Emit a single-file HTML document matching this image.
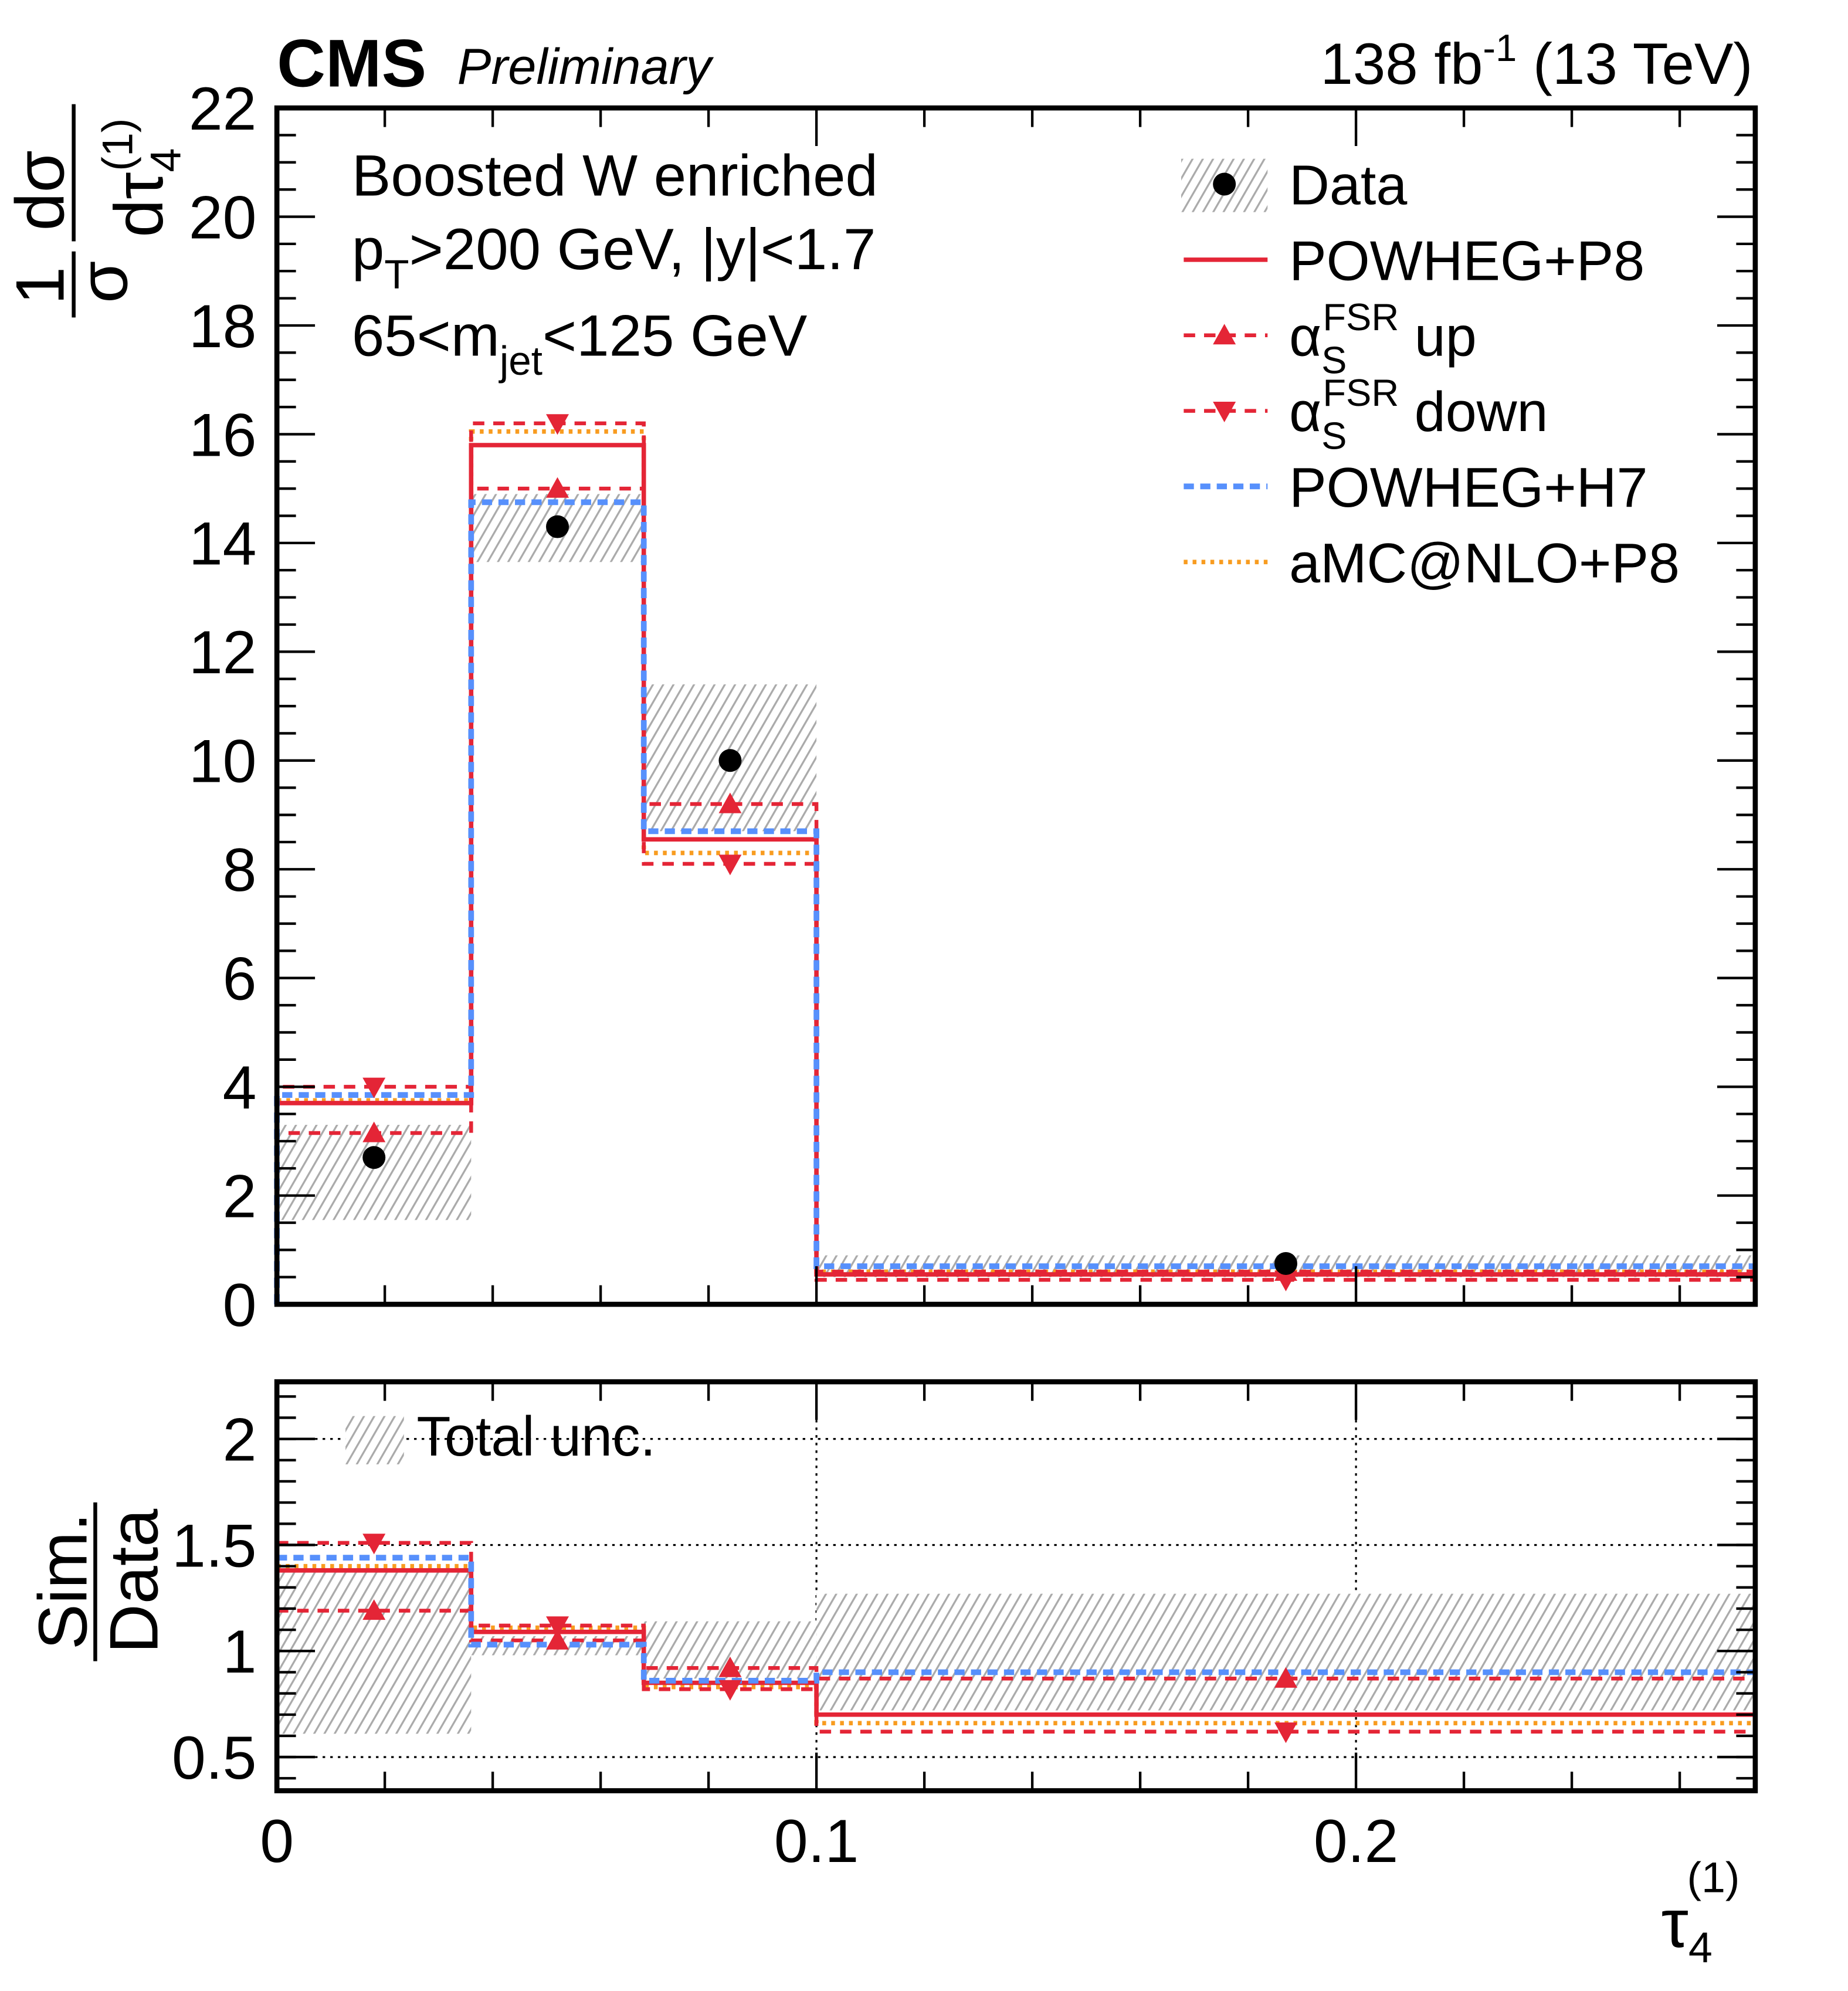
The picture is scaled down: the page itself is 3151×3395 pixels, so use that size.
<!DOCTYPE html>
<html><head><meta charset="utf-8"><style>html,body{margin:0;padding:0;background:#fff}svg{display:block}text{font-family:"Liberation Sans",sans-serif}</style></head>
<body>
<svg id="c" width="3151" height="3395" viewBox="0 0 1455 1567.7" xmlns="http://www.w3.org/2000/svg">
<defs>
<pattern id="hatch" patternUnits="userSpaceOnUse" width="7" height="7" patternTransform="rotate(30)">
<rect width="7" height="7" fill="#fff"/><line x1="0" y1="0" x2="0" y2="7" stroke="#aaa" stroke-width="3"/></pattern>
</defs>
<g id="gtop"></g><g id="gbot"></g>
<text x="218" y="68" font-size="53" font-weight="bold">CMS</text>
<text x="360" y="66" font-size="40" font-style="italic">Preliminary</text>
<text x="1380" y="66" font-size="46" text-anchor="end">138 fb<tspan font-size="30" dy="-18">-1</tspan><tspan dy="18"> (13 TeV)</tspan></text>
<text x="277" y="154" font-size="46">Boosted W enriched</text>
<text x="277" y="212" font-size="46">p<tspan font-size="32" dy="15">T</tspan><tspan dy="-15">&gt;200 GeV, |y|&lt;1.7</tspan></text>
<text x="277" y="280" font-size="46">65&lt;m<tspan font-size="32" dy="15">jet</tspan><tspan dy="-15">&lt;125 GeV</tspan></text>
<g id="ytitle"></g>
<g font-size="54">
<text transform="translate(68,1245) rotate(-90)" text-anchor="middle">Sim.</text>
<line x1="75" y1="1183" x2="75" y2="1308" stroke="#000" stroke-width="3"/>
<text transform="translate(124,1245) rotate(-90)" text-anchor="middle">Data</text>
</g>
<text x="1308" y="1533" font-size="54">τ<tspan font-size="34" dy="12">4</tspan><tspan font-size="34" dx="-20" dy="-55">(1)</tspan></text>
<g id="legend"></g>
</svg>
<script>
const binEdges=[0,0.036,0.068,0.1,0.274];
const binCenters=[0.018,0.052,0.084,0.187];
const dataVals=[2.7,14.3,10.0,0.75];
const dataLo=[1.55,13.65,8.7,0.5];
const dataHi=[3.3,14.9,11.4,0.9];
const p8Vals=[3.7,15.8,8.55,0.55];
const fsrUpVals=[3.15,15.0,9.2,0.6];
const fsrDownVals=[4.0,16.2,8.1,0.45];
const h7Vals=[3.85,14.75,8.7,0.7];
const amcVals=[3.75,16.05,8.3,0.6];
const ratioUncLo=[0.61,0.98,0.87,0.72];
const ratioUncHi=[1.38,1.07,1.14,1.27];
const p8Ratio=[1.38,1.09,0.85,0.70];
const fsrUpRatio=[1.19,1.05,0.92,0.87];
const fsrDownRatio=[1.51,1.12,0.82,0.62];
const h7Ratio=[1.44,1.03,0.86,0.90];
const amcRatio=[1.40,1.11,0.83,0.66];
const yTicks=[0,2,4,6,8,10,12,14,16,18,20,22];
const rTicks=[0.5,1,1.5,2];
const xTicks=[0,0.1,0.2];
const xTickLabels=["0","0.1","0.2"];

const NS="http://www.w3.org/2000/svg";
const L=218,R=1382,T1=85,B1=1027,T2=1088,B2=1410;
const X=v=>L+(v-0)/0.274*(R-L);
const Y=v=>B1-v/22*(B1-T1);
const YR=v=>1300-(v-1)*167;
function mk(p,tag,a){const e=document.createElementNS(NS,tag);for(const k in a)e.setAttribute(k,a[k]);p.appendChild(e);return e;}
const gTop=document.getElementById('gtop'),gBot=document.getElementById('gbot');

function bands(g,lo,hi,yf,name){lo.forEach((v,i)=>{const r=mk(g,'rect',{x:X(binEdges[i]),y:yf(hi[i]),width:X(binEdges[i+1])-X(binEdges[i]),height:yf(v)-yf(hi[i]),fill:'url(#hatch)'});

});}
function hist(g,vals,yf,col,dash,name,w,closed){let d='M'+X(binEdges[0])+','+(closed?yf(0):yf(vals[0]));
vals.forEach((v,i)=>{d+=' L'+X(binEdges[i])+','+yf(v)+' L'+X(binEdges[i+1])+','+yf(v);});
const p=mk(g,'path',{d:d,fill:'none',stroke:col,'stroke-width':w||3.5,'stroke-dasharray':dash||'none'});

}
function tri(g,x,y,up,name){const s=9;const pts=up?`${x},${y-s} ${x-s},${y+s*0.8} ${x+s},${y+s*0.8}`:`${x},${y+s} ${x-s},${y-s*0.8} ${x+s},${y-s*0.8}`;
const p=mk(g,'polygon',{points:pts,fill:'#e42536'});

}

// top panel
bands(gTop,dataLo,dataHi,Y,'data-unc-band');
hist(gTop,amcVals,Y,'#f89c20','3 4','amc-nlo-p8-hist',3.5,true);
hist(gTop,fsrUpVals,Y,'#e42536','9 7','fsr-up-hist',3,true);
hist(gTop,fsrDownVals,Y,'#e42536','9 7','fsr-down-hist',3,true);
hist(gTop,p8Vals,Y,'#e42536','none','powheg-p8-hist',3.5,true);
hist(gTop,h7Vals,Y,'#5790fc','8 5','powheg-h7-hist',4.5,true);
binCenters.forEach((c,i)=>{tri(gTop,X(c),Y(fsrUpVals[i]),true,'fsr-up-marker-'+i);tri(gTop,X(c),Y(fsrDownVals[i]),false,'fsr-down-marker-'+i);
const e=mk(gTop,'circle',{cx:X(c),cy:Y(dataVals[i]),r:9,fill:'#000'});

});
mk(gTop,'rect',{x:L,y:T1,width:R-L,height:B1-T1,fill:'none',stroke:'#000','stroke-width':4});
yTicks.forEach(v=>{const y=Y(v);mk(gTop,'line',{x1:L,x2:L+30,y1:y,y2:y,stroke:'#000','stroke-width':2});mk(gTop,'line',{x1:R,x2:R-30,y1:y,y2:y,stroke:'#000','stroke-width':2});
const t=mk(gTop,'text',{x:L-16,y:y+17,'font-size':48,'text-anchor':'end'});t.textContent=v;

});
for(let v=0;v<=22;v+=0.5){if(v%2===0)continue;const y=Y(v);mk(gTop,'line',{x1:L,x2:L+15,y1:y,y2:y,stroke:'#000','stroke-width':2});mk(gTop,'line',{x1:R,x2:R-15,y1:y,y2:y,stroke:'#000','stroke-width':2});}
for(let k=1;k<14;k++){const v=k*0.02,x=X(v),big=(k%5===0);
[[B1,B1-(big?30:15)],[T1,T1+(big?30:15)],[B2,B2-(big?30:15)],[T2,T2+(big?30:15)]].forEach(a=>mk(gTop,'line',{x1:x,x2:x,y1:a[0],y2:a[1],stroke:'#000','stroke-width':2}));}

// ratio panel
rTicks.forEach(v=>mk(gBot,'line',{x1:L,x2:R,y1:YR(v),y2:YR(v),stroke:'#000','stroke-width':1.5,'stroke-dasharray':'2 4'}));
[0.1,0.2].forEach(v=>mk(gBot,'line',{x1:X(v),x2:X(v),y1:T2,y2:B2,stroke:'#000','stroke-width':1.5,'stroke-dasharray':'2 4'}));
bands(gBot,ratioUncLo,ratioUncHi,YR,'ratio-unc-band');
hist(gBot,amcRatio,YR,'#f89c20','3 4','ratio-amc-hist',3.5);
hist(gBot,fsrUpRatio,YR,'#e42536','9 7','ratio-fsr-up-hist',3);
hist(gBot,fsrDownRatio,YR,'#e42536','9 7','ratio-fsr-down-hist',3);
hist(gBot,p8Ratio,YR,'#e42536','none','ratio-p8-hist',3.5);
hist(gBot,h7Ratio,YR,'#5790fc','8 5','ratio-h7-hist',4.5);
binCenters.forEach((c,i)=>{tri(gBot,X(c),YR(fsrUpRatio[i]),true,'ratio-fsr-up-marker-'+i);tri(gBot,X(c),YR(fsrDownRatio[i]),false,'ratio-fsr-down-marker-'+i);});
mk(gBot,'rect',{x:L,y:T2,width:R-L,height:B2-T2,fill:'none',stroke:'#000','stroke-width':4});
rTicks.forEach(v=>{const y=YR(v);mk(gBot,'line',{x1:L,x2:L+30,y1:y,y2:y,stroke:'#000','stroke-width':2});mk(gBot,'line',{x1:R,x2:R-30,y1:y,y2:y,stroke:'#000','stroke-width':2});
const t=mk(gBot,'text',{x:L-16,y:y+17,'font-size':48,'text-anchor':'end'});t.textContent=v;

});
for(let v=0.4;v<2.3;v+=0.1){const y=YR(v);mk(gBot,'line',{x1:L,x2:L+15,y1:y,y2:y,stroke:'#000','stroke-width':2});mk(gBot,'line',{x1:R,x2:R-15,y1:y,y2:y,stroke:'#000','stroke-width':2});}
xTicks.forEach((v,i)=>{const t=mk(gBot,'text',{x:X(v),y:1466,'font-size':48,'text-anchor':'middle'});t.textContent=xTickLabels[i];

});
const ub=mk(gBot,'rect',{x:272,y:1115,width:46,height:38,fill:'url(#hatch)'});


const ut=mk(gBot,'text',{x:328,y:1146,'font-size':44});ut.textContent='Total unc.';



// y title
const yt=document.getElementById('ytitle');
const t1=mk(yt,'text',{transform:'translate(50,225) rotate(-90)','font-size':54,'text-anchor':'middle'});t1.textContent='1';
const t2=mk(yt,'text',{transform:'translate(100,222) rotate(-90)','font-size':54,'text-anchor':'middle'});t2.textContent='σ';
mk(yt,'line',{x1:58,x2:58,y1:198,y2:250,stroke:'#000','stroke-width':3});
const t3=mk(yt,'text',{transform:'translate(50,150) rotate(-90)','font-size':54,'text-anchor':'middle'});t3.textContent='dσ';
mk(yt,'line',{x1:58,x2:58,y1:82,y2:190,stroke:'#000','stroke-width':3});
const t4=mk(yt,'text',{transform:'translate(128,140) rotate(-90)','font-size':54,'text-anchor':'middle'});t4.innerHTML='dτ<tspan font-size="34" dy="14">4</tspan><tspan font-size="34" dx="-18" dy="-38">(1)</tspan>';

// legend
const lg=document.getElementById('legend');
const items=[['Data'],['POWHEG+P8','#e42536','none',3.5],['α','#e42536','9 7',3],['α','#e42536','9 7',3],['POWHEG+H7','#5790fc','8 5',4.5],['aMC@NLO+P8','#f89c20','3 4',3.5]];
items.forEach((it,i)=>{const y=145+i*59.5;const g=mk(lg,'g',{});


if(i===0){mk(g,'rect',{x:930,y:y-20,width:68,height:42,fill:'url(#hatch)'});mk(g,'circle',{cx:964,cy:y,r:9,fill:'#000'});}
else{mk(g,'line',{x1:932,x2:998,y1:y,y2:y,stroke:it[1],'stroke-width':it[3],'stroke-dasharray':it[2]});}
if(i===2)tri(g,964,y,true,'legend-fsr-up-marker');
if(i===3)tri(g,964,y,false,'legend-fsr-down-marker');
const t=mk(g,'text',{x:1015,y:y+16,'font-size':44});
if(i===2||i===3)t.innerHTML='α<tspan font-size="30" dy="14">S</tspan><tspan font-size="30" dx="-19" dy="-34">FSR</tspan><tspan dy="20"> '+(i===2?'up':'down')+'</tspan>';
else t.textContent=it[0];});
</script>
</body></html>
